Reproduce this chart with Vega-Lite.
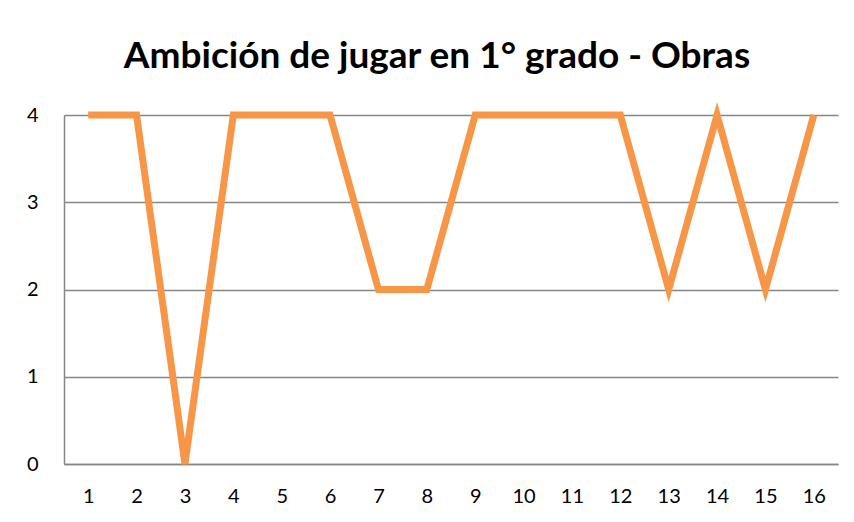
{
  "$schema": "https://vega.github.io/schema/vega-lite/v6.json",
  "width": 774,
  "height": 349,
  "autosize": {"type": "none"},
  "padding": {"left": 64, "top": 115, "right": 16, "bottom": 58},
  "background": "white",
  "title": {
    "text": "Ambición de jugar en 1° grado - Obras",
    "font": "Lato",
    "fontSize": 37,
    "fontWeight": "bold",
    "color": "#000000",
    "anchor": "middle",
    "dx": -14,
    "baseline": "alphabetic",
    "offset": -4
  },
  "data": {
    "values": [
      {"x": "1", "v": 4}, {"x": "2", "v": 4}, {"x": "3", "v": 0}, {"x": "4", "v": 4},
      {"x": "5", "v": 4}, {"x": "6", "v": 4}, {"x": "7", "v": 2}, {"x": "8", "v": 2},
      {"x": "9", "v": 4}, {"x": "10", "v": 4}, {"x": "11", "v": 4}, {"x": "12", "v": 4},
      {"x": "13", "v": 2}, {"x": "14", "v": 4}, {"x": "15", "v": 2}, {"x": "16", "v": 4}
    ]
  },
  "mark": {"type": "line", "color": "#F79646", "strokeWidth": 7, "strokeCap": "butt", "strokeJoin": "miter"},
  "encoding": {
    "x": {
      "field": "x", "type": "ordinal", "sort": null,
      "scale": {"type": "point", "padding": 0.5},
      "axis": {"title": null, "labelAngle": 0, "ticks": false, "grid": false, "domain": true,
               "domainColor": "#868686", "domainWidth": 1.5, "labelFont": "Lato", "labelFontSize": 20,
               "labelColor": "#000000", "labelPadding": 22}
    },
    "y": {
      "field": "v", "type": "quantitative",
      "scale": {"domain": [0, 4], "nice": false},
      "axis": {"title": null, "values": [0, 1, 2, 3, 4], "ticks": false, "grid": true, "gridColor": "#868686",
               "gridWidth": 1.3, "domain": true, "domainColor": "#868686", "domainWidth": 1.5,
               "labelFont": "Lato", "labelFontSize": 20, "labelColor": "#000000", "labelPadding": 26,
               "labelAlign": "right"}
    }
  },
  "config": {"view": {"stroke": null}}
}
